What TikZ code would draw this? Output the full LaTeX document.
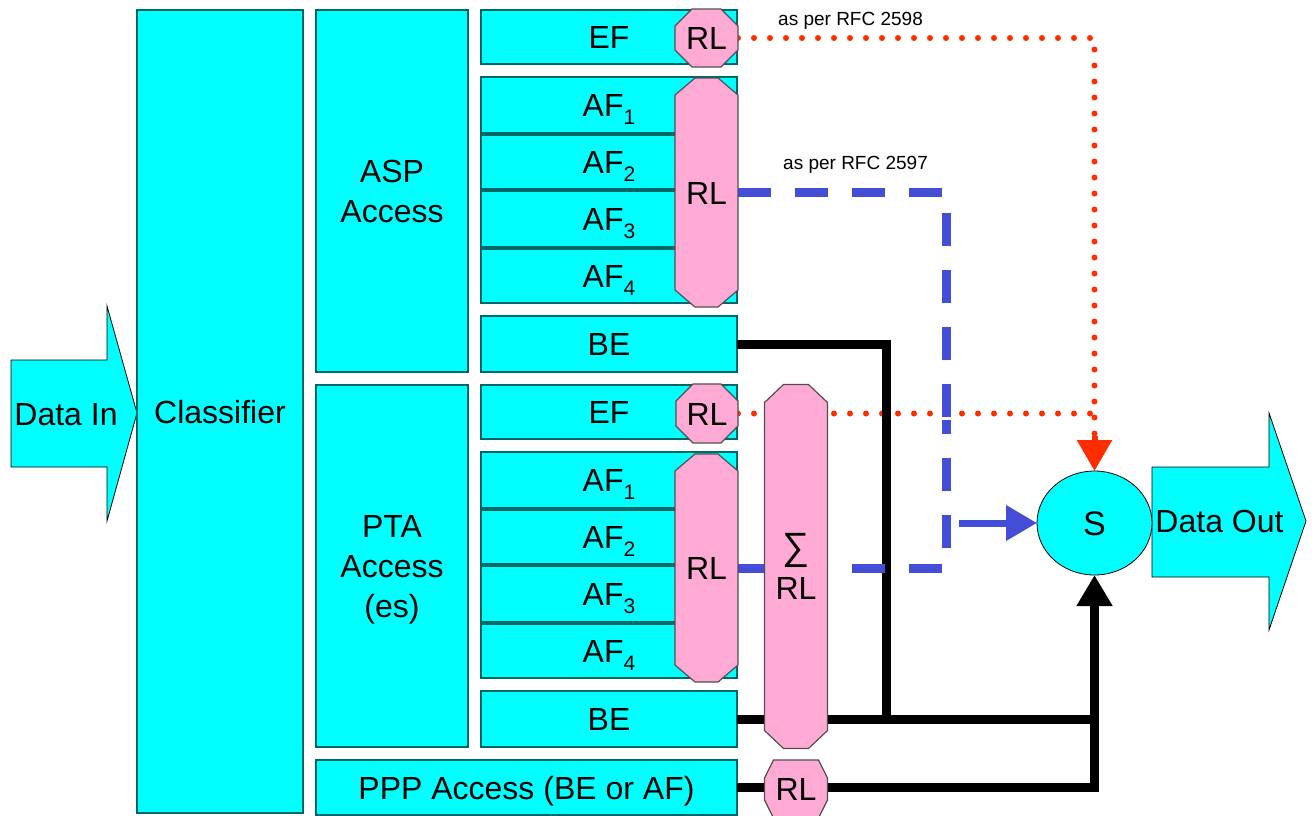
\documentclass[tikz,border=0pt]{standalone}
\usepackage{fontspec}
\setmainfont{Liberation Sans}
\usetikzlibrary{arrows.meta,shapes.geometric}
\definecolor{cyanfill}{RGB}{0,255,255}
\definecolor{boxline}{RGB}{0,102,102}
\definecolor{pinkfill}{RGB}{255,170,212}
\definecolor{octline}{RGB}{80,80,80}
\definecolor{redline}{RGB}{255,45,0}
\definecolor{blueline}{RGB}{67,77,214}
\pgfdeclarelayer{boxes}\pgfdeclarelayer{lines}\pgfdeclarelayer{octs}
\pgfsetlayers{boxes,lines,octs,main}
\newcommand\bigf{\fontsize{32}{40}\selectfont}
\newcommand\afs[1]{AF\raisebox{-8pt}{\fontsize{21}{21}\selectfont #1}}
\newcommand\octo[3]{%
\begin{pgfonlayer}{octs}
\draw[octbox] ([xshift=#2pt]#1.north west) -- ([xshift=-#2pt]#1.north east) -- ([yshift=-#3pt]#1.north east) -- ([yshift=#3pt]#1.south east) -- ([xshift=-#2pt]#1.south east) -- ([xshift=#2pt]#1.south west) -- ([yshift=#3pt]#1.south west) -- ([yshift=-#3pt]#1.north west) -- cycle;
\end{pgfonlayer}}
\tikzset{
 cboxbase/.style={draw=boxline, fill=cyanfill, line width=1.3pt, inner sep=0pt, outer sep=0pt, font=\bigf},
 cbox/.style={cboxbase, text height=23pt, text depth=0pt},
 rlnode/.style={inner sep=0pt, outer sep=0pt, font=\bigf, text height=23pt, text depth=0pt},
 octbox/.style={draw=octline, fill=pinkfill, line width=1.2pt},
 blk/.style={line width=9pt, black, line join=miter},
 reddot/.style={redline, line width=6pt, line cap=round, dash pattern=on 0pt off 16pt},
 bluedash/.style={blueline, line width=9pt, dash pattern=on 33pt off 24pt},
 arrowbox/.style={draw=black, fill=cyanfill, line width=0.8pt},
 lbl/.style={font=\fontsize{19}{22}\selectfont, anchor=base west, inner sep=0pt},
 tip/.style={-{Triangle[width=34pt,length=31pt]}},
}
\begin{document}
\begin{tikzpicture}[x=1pt,y=-1pt]
\useasboundingbox (0,0) rectangle (1313,815);
\begin{pgfonlayer}{boxes}
\draw[arrowbox] (11,360) -- (107,360) -- (107,306) -- (137,413) -- (107,521) -- (107,467) -- (11,467) -- cycle;
\draw[arrowbox] (1152,467) -- (1269,467) -- (1269,413) -- (1306,521) -- (1269,630) -- (1269,577) -- (1152,577) -- cycle;
\node[cbox, minimum width=166, minimum height=803] (cls) at (220,411.5) {Classifier};
\node[cboxbase, align=center, minimum width=152, minimum height=362] (asp) at (392,191) {ASP\\Access};
\node[cboxbase, align=center, minimum width=152, minimum height=362] (pta) at (392,566) {PTA\\Access\\\smash{(es)}};
\node[cbox, minimum width=256, minimum height=54] (efA) at (609,37) {EF};
\node[cbox, minimum width=256, minimum height=56] (af1A) at (609,105) {\afs{1}};
\node[cbox, minimum width=256, minimum height=54] (af2A) at (609,162) {\afs{2}};
\node[cbox, minimum width=256, minimum height=56] (af3A) at (609,219) {\afs{3}};
\node[cbox, minimum width=256, minimum height=54] (af4A) at (609,276) {\afs{4}};
\node[cbox, minimum width=256, minimum height=56] (beA) at (609,344) {BE};
\node[cbox, minimum width=256, minimum height=54] (efB) at (609,412) {EF};
\node[cbox, minimum width=256, minimum height=56] (af1B) at (609,480) {\afs{1}};
\node[cbox, minimum width=256, minimum height=54] (af2B) at (609,537) {\afs{2}};
\node[cbox, minimum width=256, minimum height=56] (af3B) at (609,594) {\afs{3}};
\node[cbox, minimum width=256, minimum height=54] (af4B) at (609,651) {\afs{4}};
\node[cbox, minimum width=256, minimum height=56] (beB) at (609,719) {BE};
\node[cbox, minimum width=421, minimum height=55] (ppp) at (526.5,787.5) {PPP Access (BE or AF)};
\end{pgfonlayer}
\node[rlnode] (din) at (66,413.5) {Data In};
\node[rlnode] (dout) at (1219.5,521) {Data Out};
% RL nodes
\node[rlnode, minimum width=63, minimum height=58] (rlEA) at (706.5,38) {RL};
\node[rlnode, minimum width=63, minimum height=229] (rlAA) at (706.5,192.5) {RL};
\node[rlnode, minimum width=62, minimum height=59] (rlEB) at (707,413.5) {RL};
\node[rlnode, minimum width=63, minimum height=228] (rlAB) at (706.5,568) {RL};
\node[inner sep=0pt, outer sep=0pt, font=\fontsize{32}{36}\selectfont, align=center, minimum width=63, minimum height=364] (sig) at (796,566.5) {\raisebox{4pt}{\fontsize{38}{36}\selectfont ∑}\\RL};
\node[rlnode, minimum width=63, minimum height=58] (rlP) at (796,789) {RL};
\octo{rlEA}{17}{17}
\octo{rlAA}{20}{17}
\octo{rlEB}{17}{17}
\octo{rlAB}{20}{17}
\octo{sig}{19}{18}
\octo{rlP}{9}{18}
% merger
\node[draw=black, fill=cyanfill, ellipse, line width=0.8pt, minimum width=115, minimum height=104, inner sep=0pt, outer sep=0pt, font=\fontsize{34}{40}\selectfont, text height=24pt, text depth=0pt] (S) at (1094.5,523) {S};
% labels
\node[lbl] (t1) at (778,25) {as per RFC 2598};
\node[lbl] (t2) at (783,169) {as per RFC 2597};
% connectors
\begin{pgfonlayer}{lines}
\coordinate (r1) at (1094.5,38);
\coordinate (r2) at (1094.5,413.5);
\coordinate (r3) at (1094.5,436);
\draw[reddot] (rlEA.east) -- (r1) -- (r3);
\draw[reddot] (rlEB.east) -- (r2);
\draw[redline, line width=6pt, tip] (r3) -- (S.north);
\coordinate (k1) at (886,344);
\coordinate (k2) at (886,719);
\coordinate (k3) at (1094.5,719);
\coordinate (k4) at (1094.5,787.5);
\draw[blk] (beA.east) -- (k1) -- (k2);
\draw[blk] (beB.east) -- (k3);
\draw[blk, tip] (ppp.east) -- (k4) -- (S.south);
\coordinate (b1) at (946,192.5);
\coordinate (b2) at (946,568);
\coordinate (bm) at (946,420);
\coordinate (b3) at (959,523);
\draw[bluedash] (rlAA.east) -- (b1) -- (bm);
\draw[bluedash] (rlAB.east) -- (b2) -- (bm);
\draw[blueline, line width=7pt, tip] (b3) -- (S.west);
\end{pgfonlayer}
\end{tikzpicture}
\end{document}
